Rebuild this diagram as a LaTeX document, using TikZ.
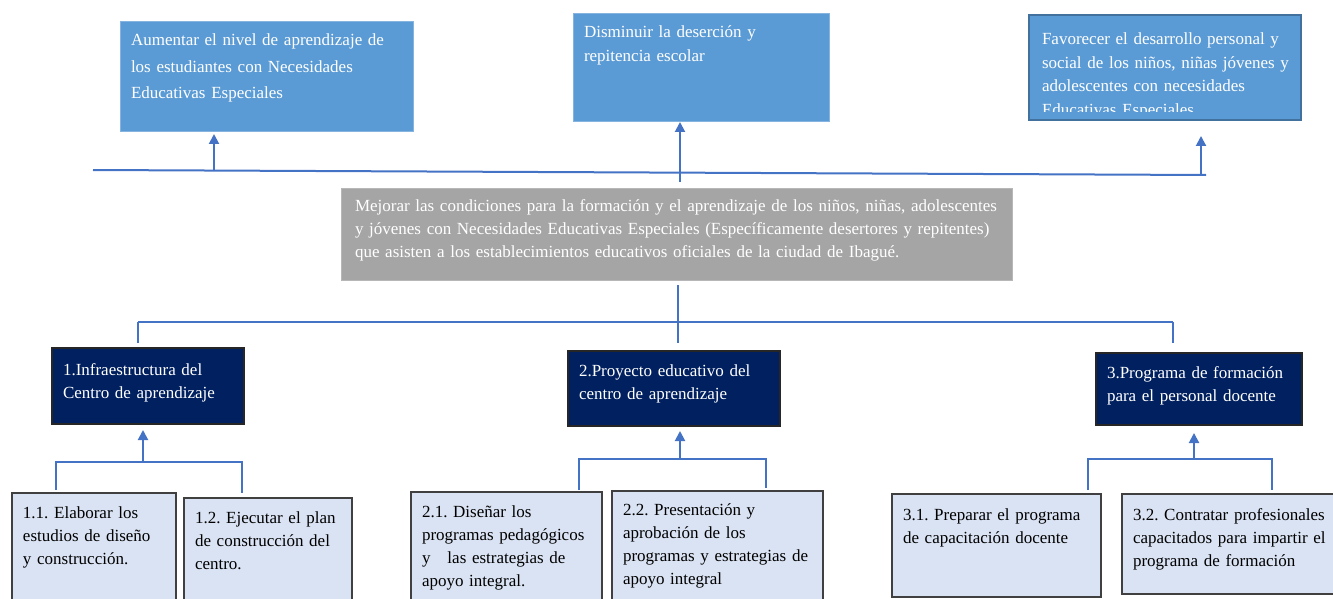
\documentclass[tikz,border=0pt]{standalone}
\usepackage{fontspec}
\setmainfont{Liberation Serif}
\usetikzlibrary{arrows.meta}
\definecolor{goalblue}{HTML}{5B9BD5}
\definecolor{goalline}{HTML}{41719C}
\definecolor{aimgray}{HTML}{A5A5A5}
\definecolor{navy}{HTML}{002060}
\definecolor{paleblue}{HTML}{DAE3F3}
\definecolor{linkblue}{HTML}{4472C4}
\frenchspacing
\hyphenpenalty=10000

\begin{document}
\begin{tikzpicture}[x=1pt, y=-1pt, >={Triangle[length=10pt,width=10pt]},
  box/.style n args={3}{anchor=north west, inner xsep=11pt, inner ysep=0pt, outer sep=0pt,
    text width=#1pt-22pt, text height=#3pt, text depth=#2pt-#3pt, align=left,
    font=\fontsize{17}{23.3}\selectfont},
  goal/.style={fill=goalblue, draw=goalblue!75!white, line width=0.8pt, text=white},
  aim/.style={fill=aimgray, draw=aimgray!80!white, line width=0.8pt, text=white},
  comp/.style={fill=navy, draw=black!85, line width=1.2pt, text=white},
  task/.style={fill=paleblue, draw=black!75, line width=1.2pt},
  link/.style={draw=linkblue, line width=2pt},
  rise/.style={link, ->}]

\useasboundingbox (0,0) rectangle (1333,599);
\clip (0,0) rectangle (1333,599);

% Draw the goals
\node[goal, box={293}{110}{25}, font=\fontsize{17}{26.5}\selectfont] (gA) at (120,21)
  {Aumentar el nivel de aprendizaje de\\los estudiantes con Necesidades\\Educativas Especiales};
\node[goal, box={256}{108}{25}] (gB) at (573,13)
  {Disminuir la deserción y\\repitencia escolar};
\node[goal, box={272}{105}{30}, draw=goalline, line width=1.6pt] (gC) at (1029,15) {};
\begin{scope}
  \clip (gC.north west) rectangle ([yshift=8pt]gC.south east);
  \node[box={272}{105}{30}, inner xsep=13pt, text=white, font=\fontsize{17}{23.5}\selectfont] (gCtext) at (1029,15)
    {Favorecer el desarrollo personal y\\social de los niños, niñas jóvenes y\\adolescentes con necesidades\\Educativas Especiales};
\end{scope}

% the aim
\node[aim, box={671}{92}{23}, inner xsep=14pt, text width=643pt] (aim) at (341,188)
  {Mejorar las condiciones para la formación y el aprendizaje de los niños, niñas, adolescentes\\
   y jóvenes con Necesidades Educativas Especiales (Específicamente desertores y repitentes)\\
   que asisten a los establecimientos educativos oficiales de la ciudad de Ibagué.};

% components
\node[comp, box={192}{76}{27}] (c1) at (52,348) {1.Infraestructura del\\Centro de aprendizaje};
\node[comp, box={212}{75}{25}] (c2) at (568,351) {2.Proyecto educativo del\\centro de aprendizaje};
\node[comp, box={206}{72}{25}] (c3) at (1096,353) {3.Programa de formación\\para el personal docente};

% activities
\node[task, box={164}{120}{25}] (a11) at (12,493) {1.1. Elaborar los\\estudios de diseño\\y construcción.};
\node[task, box={168}{120}{25}] (a12) at (184,498) {1.2. Ejecutar el plan\\de construcción del\\centro.};
\node[task, box={191}{120}{25}] (a21) at (411,492) {2.1. Diseñar los\\programas pedagógicos\\y\ \ \ las estrategias de\\apoyo integral.};
\node[task, box={211}{120}{24}] (a22) at (612,491) {2.2. Presentación y\\aprobación de los\\programas y estrategias de\\apoyo integral};
\node[task, box={209}{103}{26}] (a31) at (892,494) {3.1. Preparar el programa\\de capacitación docente};
\node[task, box={220}{100}{26}] (a32) at (1122,494) {3.2. Contratar profesionales\\capacitados para impartir el\\programa de formación};

% top line and arrows to the goals
\coordinate (tl) at (93,170);
\coordinate (tr) at (1206,175);
\coordinate (ua) at (214,171);
\coordinate (ub) at (680,182);
\coordinate (uc) at (1201,175);
\draw[link] (tl) -- (tr);
\draw[rise, shorten >=3pt] (ua) -- (ua |- gA.south);
\draw[rise, shorten >=1pt] (ub) -- (ub |- gB.south);
\draw[rise, shorten >=16pt] (uc) -- (uc |- gC.south);

% aim to components
\coordinate (j1) at (138,322);
\coordinate (j2) at (678,322);
\coordinate (j3) at (1173,322);
\draw[link, shorten <=5pt] (j2 |- aim.south) -- (j2);
\draw[link] (j1) -- (j3);
\draw[link, shorten >=5pt] (j1) -- (j1 |- c1.north);
\draw[link, shorten >=8pt] (j2) -- (j2 |- c2.north);
\draw[link, shorten >=10pt] (j3) -- (j3 |- c3.north);

% activities to components
\coordinate (k1) at (143,462);
\coordinate (b11) at (56,462);
\coordinate (b12) at (242,462);
\draw[rise, shorten >=6pt] (k1) -- (k1 |- c1.south);
\draw[link, shorten <=3pt, shorten >=5pt] (b11 |- a11.north) -- (b11) -- (b12) -- (b12 |- a12.north);

\coordinate (k2) at (680,459);
\coordinate (b21) at (579,459);
\coordinate (b22) at (766,459);
\draw[rise, shorten >=5pt] (k2) -- (k2 |- c2.south);
\draw[link, shorten <=2pt, shorten >=3pt] (b21 |- a21.north) -- (b21) -- (b22) -- (b22 |- a22.north);

\coordinate (k3) at (1194,459);
\coordinate (b31) at (1088,459);
\coordinate (b32) at (1272,459);
\draw[rise, shorten >=8pt] (k3) -- (k3 |- c3.south);
\draw[link, shorten <=4pt, shorten >=4pt] (b31 |- a31.north) -- (b31) -- (b32) -- (b32 |- a32.north);
\end{tikzpicture}
\end{document}
